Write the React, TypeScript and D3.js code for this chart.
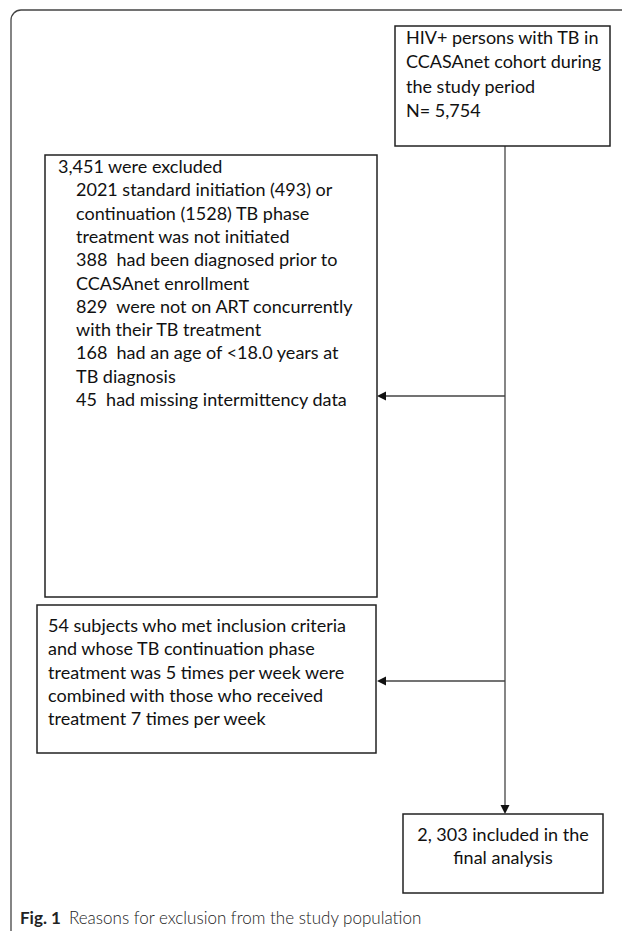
import * as d3 from 'd3';
import { useEffect, useRef } from 'react';

// flowchart texts
const topLines = ['HIV+ persons with TB in', 'CCASAnet cohort during', 'the study period', 'N= 5,754'];
const excludedTitle = '3,451 were excluded';
const excludedReasons = [
    '2021 standard initiation (493) or',
    'continuation (1528) TB phase',
    'treatment was not initiated',
    '388  had been diagnosed prior to',
    'CCASAnet enrollment',
    '829  were not on ART concurrently',
    'with their TB treatment',
    '168  had an age of <18.0 years at',
    'TB diagnosis',
    '45  had missing intermittency data',
];
const combinedLines = [
    '54 subjects who met inclusion criteria',
    'and whose TB continuation phase',
    'treatment was 5 times per week were',
    'combined with those who received',
    'treatment 7 times per week',
];
const finalLines = ['2, 303 included in the', 'final analysis'];
const captionLabel = 'Fig. 1';
const captionText = 'Reasons for exclusion from the study population';

const W = 622,
    H = 931;
const font = 'Lato, "Noto Sans", sans-serif';
const fontSize = 18;
const lineH = 23.3;

export default function App() {
    const ref = useRef<SVGSVGElement>(null);

    useEffect(() => {
        document.body.style.margin = '0';
        const svg = d3.select(ref.current);
        svg.selectAll('*').remove();

        // outer frame, rounded top-left corner
        const frame = d3.path();
        frame.moveTo(11, H);
        frame.lineTo(11, 20);
        frame.arcTo(11, 10, 21, 10, 10);
        frame.lineTo(W, 10);
        svg.append('path')
            .attr('d', frame.toString())
            .attr('fill', 'none')
            .attr('stroke', '#444')
            .attr('stroke-width', 1.3);

        const box = (x0: number, y0: number, x1: number, y1: number) =>
            svg.append('rect')
                .attr('x', x0)
                .attr('y', y0)
                .attr('width', x1 - x0)
                .attr('height', y1 - y0)
                .attr('fill', 'none')
                .attr('stroke', '#222')
                .attr('stroke-width', 1.5);

        const lines = (
            texts: string[],
            x: number,
            y0: number,
            step = lineH,
            anchor = 'start'
        ) => {
            svg.append('g')
                .selectAll('text')
                .data(texts)
                .join('text')
                .attr('x', x)
                .attr('y', (_, i) => y0 + i * step)
                .attr('dominant-baseline', 'central')
                .attr('text-anchor', anchor)
                .attr('font-family', font)
                .attr('font-size', fontSize)
                .attr('fill', '#111')
                .style('white-space', 'pre')
                .text((d) => d);
        };

        const spineX = 505;

        // connectors
        const conn = svg.append('g').attr('stroke', '#444').attr('stroke-width', 1.3);
        conn.append('line')
            .attr('x1', spineX)
            .attr('x2', spineX)
            .attr('y1', 146)
            .attr('y2', 806);
        conn.append('line').attr('x1', spineX).attr('x2', 384).attr('y1', 396).attr('y2', 396);
        conn.append('line').attr('x1', spineX).attr('x2', 384).attr('y1', 681).attr('y2', 681);

        const head = (x: number, y: number, dir: 'left' | 'down') => {
            const p = d3.path();
            if (dir === 'left') {
                p.moveTo(x, y);
                p.lineTo(x + 9, y - 4.5);
                p.lineTo(x + 9, y + 4.5);
            } else {
                p.moveTo(x, y);
                p.lineTo(x - 4.5, y - 9);
                p.lineTo(x + 4.5, y - 9);
            }
            p.closePath();
            svg.append('path').attr('d', p.toString()).attr('fill', '#111');
        };
        head(377, 396, 'left');
        head(377, 681, 'left');
        head(spineX, 814, 'down');

        // boxes
        box(395, 26, 610, 146);
        lines(topLines, 406, 37, 24.3);

        box(45, 155, 377, 597);
        lines([excludedTitle], 58, 166);
        lines(excludedReasons, 76, 166 + lineH);

        box(37, 605, 376, 753);
        lines(combinedLines, 48, 625);

        box(403, 814, 603, 893);
        lines(finalLines, 503, 834, lineH, 'middle');

        // caption
        const cap = svg.append('text')
            .attr('x', 20)
            .attr('y', 917)
            .attr('dominant-baseline', 'central')
            .attr('font-family', font)
            .attr('font-size', 17)
            .attr('fill', '#222');
        cap.append('tspan').attr('font-weight', 700).text(captionLabel);
        cap.append('tspan').attr('dx', 8).attr('font-weight', 300).text(captionText);
    }, []);

    return <svg ref={ref} width={W} height={H} style={{ display: 'block', background: '#fff' }} />;
}
